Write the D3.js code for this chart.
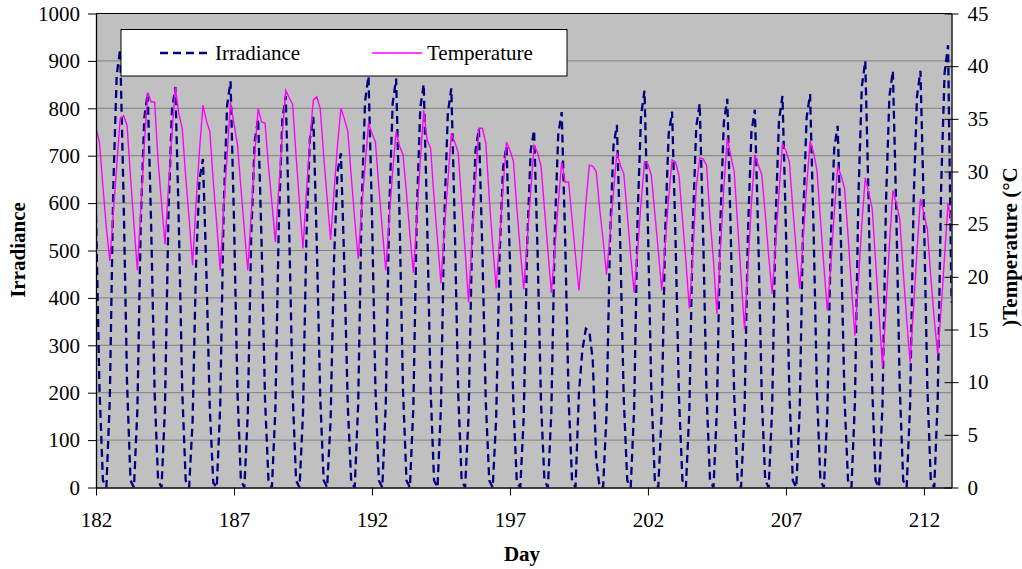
<!DOCTYPE html>
<html><head><meta charset="utf-8">
<script src="https://cdn.jsdelivr.net/npm/d3@7"></script>
<style>
body{margin:0;background:#fff}
svg{display:block}
text{font-family:"Liberation Serif","Times New Roman",serif;fill:#000}
</style>
</head><body>
<svg id="chart" width="1022" height="569"></svg>
<script>
// ---- data (3-hourly samples, 8 per day) ----
const days = [182,183,184,185,186,187,188,189,190,191,192,193,194,195,196,197,198,199,200,201,202,203,204,205,206,207,208,209,210,211,212,213];
const samplesPerDay = 8;
const irradiance = [
  [575,210,15,0,185,630,870,925],
  [610,220,15,0,165,565,780,832],
  [550,200,15,0,170,575,795,845],
  [560,205,15,0,140,470,650,693],
  [455,165,10,0,170,585,805,857],
  [565,205,15,0,155,530,730,778],
  [515,185,15,0,165,560,775,826],
  [545,200,15,0,155,530,735,782],
  [515,190,15,0,140,480,665,705],
  [465,170,10,0,175,590,815,868],
  [575,210,15,0,175,585,810,863],
  [570,205,15,0,170,580,800,851],
  [560,205,15,0,170,575,790,842],
  [555,200,15,0,150,515,710,757],
  [500,180,15,0,145,490,675,720],
  [475,175,10,0,150,515,710,754],
  [500,180,15,0,160,540,745,792],
  [525,190,15,0,200,290,335,330],
  [270,60,0,0,155,520,720,765],
  [505,185,15,0,165,570,785,837],
  [550,200,15,0,160,540,745,793],
  [525,190,15,0,160,550,760,810],
  [535,195,15,0,165,560,770,820],
  [540,195,15,0,160,540,750,797],
  [525,190,15,0,165,560,775,826],
  [545,200,15,0,165,565,780,830],
  [550,200,15,0,155,520,715,763],
  [505,185,15,0,180,610,845,900],
  [595,215,15,0,175,600,825,879],
  [580,210,15,0,175,600,825,879],
  [580,210,15,0,185,635,875,933],
  [390]
];
const temperature = [
  [34.1,32.8,28.6,24.7,21.5,26.0,30.5,35.0],
  [35.3,34.4,29.5,25.0,20.6,26.5,32.5,37.5],
  [36.6,36.6,31.0,27.0,23.1,28.5,33.5,38.0],
  [35.5,34.1,29.5,25.5,21.1,27.0,32.0,36.3],
  [34.8,33.8,29.0,25.0,20.6,26.5,31.5,36.6],
  [34.5,32.6,28.5,24.5,20.6,26.0,31.5,36.0],
  [34.7,34.6,30.5,27.0,23.3,28.5,33.5,37.7],
  [37.0,36.4,31.5,27.0,22.7,28.0,33.0,36.8],
  [37.1,36.0,31.5,27.5,23.5,28.0,32.5,36.0],
  [35.0,33.8,29.5,25.5,21.7,26.5,30.5,34.6],
  [33.6,32.8,28.5,24.5,20.6,25.5,30.0,33.8],
  [32.4,31.6,28.0,24.0,20.4,25.5,31.0,35.8],
  [33.0,32.2,27.5,23.5,19.4,24.5,29.0,33.6],
  [32.8,31.8,27.0,22.5,17.6,23.5,29.0,34.1],
  [34.1,32.7,27.5,23.0,18.9,23.5,28.5,32.8],
  [32.0,31.0,26.5,22.5,18.8,23.5,28.0,32.5],
  [31.8,30.5,26.5,22.5,18.5,22.5,27.0,30.9],
  [29.0,29.0,25.5,22.0,18.7,22.5,27.0,30.6],
  [30.5,30.0,26.5,23.5,20.2,24.0,28.0,31.8],
  [30.6,29.8,26.0,22.0,18.5,22.5,27.0,30.9],
  [30.7,29.6,26.0,22.5,18.7,23.0,27.5,31.1],
  [30.9,29.6,25.5,21.5,17.0,22.0,28.5,31.3],
  [31.2,30.6,25.5,21.5,16.5,22.5,28.5,33.2],
  [31.5,30.0,25.0,20.0,15.0,21.0,27.0,31.6],
  [30.6,29.7,26.0,22.0,18.4,23.0,28.0,32.6],
  [32.0,30.9,26.5,22.5,18.9,23.5,28.5,32.9],
  [31.8,30.1,25.5,21.0,16.8,21.0,26.0,30.5],
  [29.6,28.4,24.0,19.0,14.4,19.5,25.0,29.4],
  [28.0,26.5,21.5,16.5,11.4,17.0,23.0,28.2],
  [27.0,25.5,20.5,16.0,11.9,17.0,22.5,27.4],
  [26.0,24.5,20.0,16.0,12.6,17.0,22.0,27.0],
  [25.2]
];
const xTicks = [182,187,192,197,202,207,212];
const irrTicks = [0,100,200,300,400,500,600,700,800,900,1000];
const tempTicks = [0,5,10,15,20,25,30,35,40,45];
const seriesNames = ["Irradiance","Temperature"];

// ---- layout ----
const L = 96, R = 951.5, T = 13.5, B = 487.5;
const svg = d3.select("#chart");
const x = d3.scaleLinear().domain([182,213]).range([L,R]);
const yL = d3.scaleLinear().domain([0,1000]).range([B,T]);
const yR = d3.scaleLinear().domain([0,45]).range([B,T]);

const flat = arr => days.flatMap((d,i) => arr[i].map((v,k) => ({t: d + k/samplesPerDay, v})));
const irrData = flat(irradiance);
const tempData = flat(temperature);

svg.append("rect").attr("x",L).attr("y",T).attr("width",R-L).attr("height",B-T).attr("fill","#c0c0c0");

svg.append("g").selectAll("line").data(irrTicks.filter(v=>v>0 && v<1000)).join("line")
  .attr("x1",L).attr("x2",R).attr("y1",d=>yL(d)).attr("y2",d=>yL(d))
  .attr("stroke","#808080").attr("stroke-width",1);

svg.append("defs").append("clipPath").attr("id","clip")
  .append("rect").attr("x",L).attr("y",T).attr("width",R-L).attr("height",B-T);

const gLines = svg.append("g").attr("clip-path","url(#clip)");
gLines.append("path").datum(irrData)
  .attr("d", d3.line().x(p=>x(p.t)).y(p=>yL(p.v)))
  .attr("fill","none").attr("stroke","#000080").attr("stroke-width",2.3)
  .attr("stroke-dasharray","8,5");
gLines.append("path").datum(tempData)
  .attr("d", d3.line().x(p=>x(p.t)).y(p=>yR(p.v)))
  .attr("fill","none").attr("stroke","#ff00ff").attr("stroke-width",1.4);

svg.append("line").attr("x1",L).attr("x2",R).attr("y1",T).attr("y2",T).attr("stroke","#000").attr("stroke-width",1);

const fs = "21px";
const fam = '"Liberation Serif","Times New Roman",serif';
const axL = svg.append("g").attr("transform",`translate(${L},0)`)
  .call(d3.axisLeft(yL).tickValues(irrTicks).tickSize(8).tickPadding(8).tickSizeOuter(0).tickFormat(d3.format("d")));
const axB = svg.append("g").attr("transform",`translate(0,${B})`)
  .call(d3.axisBottom(x).tickValues(xTicks).tickSize(8).tickPadding(17).tickSizeOuter(0).tickFormat(d3.format("d")));
const axR = svg.append("g").attr("transform",`translate(${R},0)`)
  .call(d3.axisRight(yR).tickValues(tempTicks).tickSize(7).tickPadding(9).tickSizeOuter(0).tickFormat(d3.format("d")));
axR.selectAll(".tick line").attr("x1",-7);
[axL,axB,axR].forEach(g=>{
  g.attr("font-family",fam).attr("font-size",21);
  g.selectAll("text").style("font-size",fs).style("font-family",fam).attr("fill","#000");
  g.selectAll("line").attr("stroke","#000");
  g.select(".domain").attr("stroke","#000").attr("stroke-width",1.3);
});

svg.append("text").attr("transform","translate(25,250) rotate(-90)").attr("text-anchor","middle")
  .style("font-size",fs).style("font-weight","bold").text("Irradiance");
svg.append("text").attr("x",522).attr("y",561).attr("text-anchor","middle")
  .style("font-size",fs).style("font-weight","bold").text("Day");
svg.append("text").attr("transform","translate(1017,247) rotate(-90)").attr("text-anchor","middle")
  .style("font-size",fs).style("font-weight","bold").text(")Temperature (°C");

const lg = svg.append("g");
lg.append("rect").attr("x",121).attr("y",29.5).attr("width",446).attr("height",46.5)
  .attr("fill","#fff").attr("stroke","#000").attr("stroke-width",1);
lg.append("line").attr("x1",160).attr("x2",210).attr("y1",53).attr("y2",53)
  .attr("stroke","#000080").attr("stroke-width",2.3).attr("stroke-dasharray","8,5");
lg.append("text").attr("x",215).attr("y",60).style("font-size",fs).text(seriesNames[0]);
lg.append("line").attr("x1",372).attr("x2",422).attr("y1",53).attr("y2",53)
  .attr("stroke","#ff00ff").attr("stroke-width",1.4);
lg.append("text").attr("x",427).attr("y",60).style("font-size",fs).text(seriesNames[1]);
</script>
</body></html>
